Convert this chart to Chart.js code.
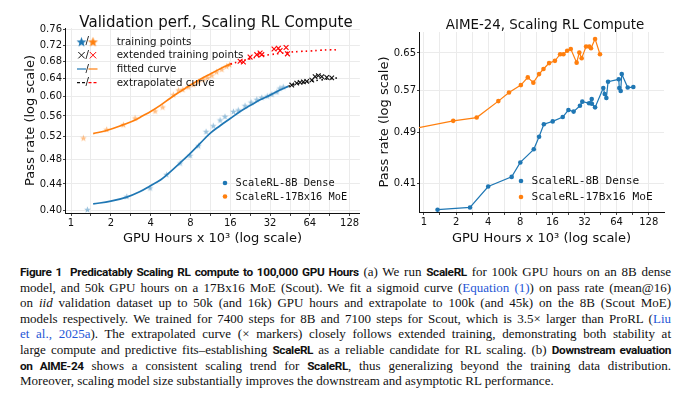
<!DOCTYPE html>
<html>
<head>
<meta charset="utf-8">
<script src="https://cdn.jsdelivr.net/npm/chart.js@4.4.1/dist/chart.umd.min.js"></script>
<style>
  body { margin: 0; background: #fff; width: 690px; height: 393px; overflow: hidden; position: relative; }
  #valChart { position: absolute; left: 0; top: 0; }
  #aimeChart { position: absolute; left: 365px; top: 0; }
  #caption { position: absolute; left: 20px; top: 264px; width: 651px; font-family: 'Liberation Serif', serif; font-size: 13px; color: #111; }
  .ln { height: 15.6px; line-height: 15.6px; text-align: justify; text-align-last: justify; }
  .ln.last { text-align-last: left; }
  .b { font-family: 'Roboto', sans-serif; font-weight: 700; font-size: 11.8px; letter-spacing: -0.35px; }
  .lnk { color: #2456d6; }
</style>
</head>
<body>
<canvas id="valChart" width="365" height="258"></canvas>
<canvas id="aimeChart" width="325" height="258"></canvas>
<div id="caption">
  <div class="ln"><span class="b">Figure 1&nbsp;&nbsp;Predicatably Scaling RL compute to 100,000 GPU Hours</span> (a) We run <span class="b">ScaleRL</span> for 100k GPU hours on an 8B dense</div>
  <div class="ln">model, and 50k GPU hours on a 17Bx16 MoE (Scout). We fit a sigmoid curve (<span class="lnk">Equation (1)</span>) on pass rate (mean@16)</div>
  <div class="ln">on <i>iid</i> validation dataset up to 50k (and 16k) GPU hours and extrapolate to 100k (and 45k) on the 8B (Scout MoE)</div>
  <div class="ln">models respectively. We trained for 7400 steps for 8B and 7100 steps for Scout, which is 3.5× larger than ProRL (<span class="lnk">Liu</span></div>
  <div class="ln"><span class="lnk">et al., 2025a</span>). The extrapolated curve (× markers) closely follows extended training, demonstrating both stability at</div>
  <div class="ln">large compute and predictive fits–establishing <span class="b">ScaleRL</span> as a reliable candidate for RL scaling. (b) <span class="b">Downstream evaluation</span></div>
  <div class="ln"><span class="b">on AIME-24</span> shows a consistent scaling trend for <span class="b">ScaleRL</span>, thus generalizing beyond the training data distribution.</div>
  <div class="ln last">Moreover, scaling model size substantially improves the downstream and asymptotic RL performance.</div>
</div>
<script>
// ---- axis ticks ----
const xTicksMajor = [1, 2, 4, 8, 16, 32, 64, 128];
const xGridMinor = [1.41, 2.83, 5.66, 11.3, 22.6, 45.3, 90.5];
const yTicksVal = [0.40, 0.44, 0.48, 0.52, 0.56, 0.60, 0.64, 0.68, 0.72, 0.76];
const yTicksAime = [0.41, 0.49, 0.57, 0.65];

// ---- (a) validation pass rate, GPU hours x 10^3 ----
// training points (stars)
const denseTrainX = [1.33, 2.64, 3.96, 5.28, 6.68, 7.95, 9.2, 10.5, 11.9, 13.4, 14.6, 16.9, 18.4, 20.7, 23.0, 25.4, 27.7, 30.5, 33.0, 36.0, 38.0, 40.3];
const denseTrainY = [0.402, 0.421, 0.434, 0.455, 0.474, 0.487, 0.504, 0.530, 0.541, 0.552, 0.559, 0.569, 0.572, 0.581, 0.588, 0.594, 0.598, 0.601, 0.605, 0.610, 0.618, 0.621];
const moeTrainX = [1.24, 1.86, 2.49, 3.05, 4.32, 4.93, 5.94, 6.5, 7.0, 7.7, 8.4, 9.2, 10.0, 10.8, 11.6, 12.6, 13.8, 15.0, 15.8];
const moeTrainY = [0.518, 0.534, 0.543, 0.556, 0.570, 0.578, 0.604, 0.614, 0.615, 0.621, 0.626, 0.632, 0.638, 0.642, 0.647, 0.655, 0.661, 0.668, 0.672];
// fitted curves
const denseFitX = [1.47, 2.0, 2.64, 3.3, 3.96, 4.8, 5.6, 6.67, 7.94, 9.46, 11.2, 13.4, 16, 19, 22.6, 26.9, 32, 38, 44];
const denseFitY = [0.410, 0.414, 0.420, 0.428, 0.437, 0.447, 0.459, 0.474, 0.490, 0.508, 0.526, 0.541, 0.555, 0.569, 0.581, 0.593, 0.603, 0.614, 0.622];
const moeFitX = [1.47, 1.86, 2.49, 3.0, 3.52, 4.0, 4.76, 5.66, 6.73, 8.0, 9.5, 11.3, 13.45, 16];
const moeFitY = [0.526, 0.532, 0.543, 0.551, 0.561, 0.569, 0.582, 0.597, 0.611, 0.625, 0.638, 0.650, 0.662, 0.673];
// extended training points (x markers)
const denseExtX = [46.7, 50.9, 54.0, 57.2, 60.6, 66.2, 70.1, 74.2, 78.8, 85.9, 93.7];
const denseExtY = [0.625, 0.629, 0.631, 0.632, 0.633, 0.636, 0.644, 0.646, 0.644, 0.642, 0.641];
const moeExtX = [19.0, 20.1, 22.6, 25.4, 26.9, 27.7, 34.3, 37.0, 38.1, 42.3, 43.3];
const moeExtY = [0.680, 0.678, 0.690, 0.696, 0.700, 0.696, 0.710, 0.712, 0.706, 0.714, 0.698];
// extrapolated curves
const denseExtrapX = [44, 50, 57, 64, 76, 90, 105];
const denseExtrapY = [0.622, 0.627, 0.630, 0.633, 0.636, 0.639, 0.641];
const moeExtrapX = [16, 19, 22.6, 26.9, 32, 38, 45, 54, 64, 76, 90, 105];
const moeExtrapY = [0.673, 0.680, 0.686, 0.692, 0.696, 0.699, 0.702, 0.704, 0.705, 0.707, 0.708, 0.708];

// ---- (b) AIME-24 ----
const aimeDenseX = [1.34, 2.70, 4.0, 6.64, 8.0, 10.7, 12.0, 13.3, 16.1, 20.0, 22.6, 25.3, 29.0, 30.5, 35.3, 37.4, 37.5, 40.2, 48.0, 49.5, 51.3, 53.2, 67.0, 67.8, 69.9, 71.5, 81.3, 91.8];
const aimeDenseY = [0.373, 0.376, 0.405, 0.419, 0.441, 0.462, 0.483, 0.505, 0.510, 0.518, 0.531, 0.528, 0.539, 0.547, 0.544, 0.552, 0.543, 0.536, 0.574, 0.562, 0.554, 0.587, 0.592, 0.574, 0.568, 0.603, 0.575, 0.576];
const aimeMoeX = [0.8, 1.88, 3.12, 4.98, 6.27, 8.1, 9.4, 10.6, 12.0, 13.2, 14.9, 16.9, 18.9, 20.3, 22.0, 23.8, 27.0, 28.6, 30.1, 33.1, 35.5, 36.8, 40.2, 44.7];
const aimeMoeY = [0.497, 0.511, 0.517, 0.548, 0.565, 0.580, 0.596, 0.585, 0.603, 0.614, 0.627, 0.632, 0.647, 0.647, 0.655, 0.659, 0.628, 0.651, 0.638, 0.665, 0.665, 0.661, 0.683, 0.647];

const BLUE = '#1f77b4';
const ORANGE = '#ff7f0e';
const RED = '#ff0000';
const INK = '#111';
const GRID = '#ebebeb';

Chart.defaults.font.family = "'DejaVu Sans', sans-serif";
Chart.defaults.color = INK;

const pts = (xs, ys) => xs.map((x, i) => ({ x: x, y: ys[i] }));

// filled 5-point star, drawn once and used as pointStyle
function starImage(color, r) {
    const c = document.createElement('canvas');
    const s = Math.ceil(r * 2 + 2);
    c.width = c.height = s;
    const g = c.getContext('2d');
    g.fillStyle = color;
    g.beginPath();
    for (let i = 0; i < 10; i++) {
        const rad = i % 2 ? r * 0.42 : r;
        const a = -Math.PI / 2 + i * Math.PI / 5;
        g.lineTo(s / 2 + rad * Math.cos(a), s / 2 + rad * Math.sin(a) + r * 0.1);
    }
    g.closePath();
    g.fill();
    return c;
}

function xAxis(min, max, height, tickGap) {
    return {
        type: 'logarithmic', min: min, max: max, bounds: 'data',
        afterBuildTicks: ax => {
            ax.ticks = xTicksMajor.concat(xGridMinor).sort((a, b) => a - b).map(v => ({ value: v }));
        },
        afterFit: ax => { ax.height = height; },
        ticks: {
            autoSkip: false, maxRotation: 0, padding: tickGap, color: INK, font: { size: 10 },
            callback: v => xTicksMajor.includes(v) ? String(v) : ''
        },
        grid: { color: GRID, tickColor: '#444', tickLength: 3 },
        border: { color: INK, width: 1 },
        title: { display: true, text: 'GPU Hours x 10³ (log scale)', color: INK, font: { size: 13 }, padding: { top: 0, bottom: 12 } }
    };
}

function yAxis(min, max, ticks, width, titleGap) {
    return {
        type: 'logarithmic', min: min, max: max, bounds: 'data',
        afterBuildTicks: ax => { ax.ticks = ticks.map(v => ({ value: v })); },
        afterFit: ax => { ax.width = width; },
        ticks: { autoSkip: false, padding: 1, color: INK, font: { size: 10 }, callback: v => v.toFixed(2) },
        grid: { color: GRID, tickColor: '#444', tickLength: 2 },
        border: { color: INK, width: 1 },
        title: { display: true, text: 'Pass rate (log scale)', color: INK, font: { size: 13 }, padding: { top: titleGap, bottom: 0 } }
    };
}

// title + dot legend drawn in chart space
function decor(title, titleX, titleY, titleSize, legX, legY, legSize, legGap) {
    return {
        id: 'decor',
        afterDraw(chart) {
            const ctx = chart.ctx;
            ctx.save();
            ctx.fillStyle = INK;
            ctx.font = titleSize + "px 'DejaVu Sans'";
            ctx.textAlign = 'center';
            ctx.textBaseline = 'alphabetic';
            ctx.fillText(title, titleX, titleY);
            ctx.font = legSize + "px 'DejaVu Sans Mono'";
            ctx.textAlign = 'left';
            ctx.textBaseline = 'middle';
            [['ScaleRL-8B Dense', BLUE], ['ScaleRL-17Bx16 MoE', ORANGE]].forEach((it, i) => {
                const y = legY + i * legGap;
                ctx.fillStyle = it[1];
                ctx.beginPath();
                ctx.arc(legX, y, 2.3, 0, Math.PI * 2);
                ctx.fill();
                ctx.fillStyle = INK;
                ctx.fillText(it[0], legX + 10.5, y + 0.5);
            });
            ctx.restore();
        }
    };
}

// marker legend, upper left of (a)
const keyLegend = {
    id: 'keyLegend',
    afterDraw(chart) {
        const ctx = chart.ctx;
        const rows = [41.7, 55.2, 69.0, 82.7];
        const lx = 81.5, rx = 93, tx = 116.7;
        ctx.save();
        ctx.font = "10.3px 'DejaVu Sans'";
        ctx.textBaseline = 'middle';
        ctx.textAlign = 'left';
        ctx.fillStyle = INK;
        ['training points', 'extended training points', 'fitted curve', 'extrapolated curve'].forEach((t, i) => {
            ctx.fillText(t, tx, rows[i] + 0.5);
        });
        ctx.textAlign = 'center';
        rows.forEach(y => ctx.fillText('/', 87.3, y));
        // stars
        const sb = starImage(BLUE, 5.2), so = starImage(ORANGE, 5.2);
        ctx.drawImage(sb, lx - sb.width / 2, rows[0] - sb.height / 2);
        ctx.drawImage(so, rx - so.width / 2, rows[0] - so.height / 2);
        // crosses
        ctx.lineWidth = 1;
        [[lx, INK], [rx, RED]].forEach(c => {
            ctx.strokeStyle = c[1];
            ctx.beginPath();
            ctx.moveTo(c[0] - 3.2, rows[1] - 3.2); ctx.lineTo(c[0] + 3.2, rows[1] + 3.2);
            ctx.moveTo(c[0] + 3.2, rows[1] - 3.2); ctx.lineTo(c[0] - 3.2, rows[1] + 3.2);
            ctx.stroke();
        });
        // solid and dashed segments
        ctx.lineWidth = 1.2;
        [[lx, BLUE], [rx, ORANGE]].forEach(c => {
            ctx.strokeStyle = c[1];
            ctx.beginPath(); ctx.moveTo(c[0] - 4.5, rows[2]); ctx.lineTo(c[0] + 4.5, rows[2]); ctx.stroke();
        });
        [[lx, INK], [rx, RED]].forEach(c => {
            ctx.strokeStyle = c[1];
            ctx.setLineDash([3, 2]);
            ctx.beginPath(); ctx.moveTo(c[0] - 4.5, rows[3]); ctx.lineTo(c[0] + 4.5, rows[3]); ctx.stroke();
        });
        ctx.restore();
    }
};

const starBlue = starImage('rgba(31,119,180,0.45)', 3.5);
const starOrange = starImage('rgba(255,127,14,0.5)', 3.5);

new Chart(document.getElementById('valChart'), {
    type: 'scatter',
    data: {
        datasets: [
            { data: pts(denseFitX, denseFitY), showLine: true, borderColor: BLUE, borderWidth: 1.7, pointRadius: 0, tension: 0.4 },
            { data: pts(moeFitX, moeFitY), showLine: true, borderColor: ORANGE, borderWidth: 1.7, pointRadius: 0, tension: 0.4 },
            { data: pts(denseExtX, denseExtY), pointStyle: 'crossRot', pointRadius: 3.2, borderColor: INK, borderWidth: 1.1 },
            { data: pts(moeExtX, moeExtY), pointStyle: 'crossRot', pointRadius: 3.4, borderColor: RED, borderWidth: 1.1 },
            { data: pts(denseExtrapX, denseExtrapY), showLine: true, borderColor: INK, borderWidth: 1.6, borderDash: [1.6, 3.2], pointRadius: 0, tension: 0.4 },
            { data: pts(moeExtrapX, moeExtrapY), showLine: true, borderColor: RED, borderWidth: 1.6, borderDash: [1.6, 3.2], pointRadius: 0, tension: 0.4 },
            { data: pts(denseTrainX, denseTrainY), pointStyle: starBlue, pointRadius: 3 },
            { data: pts(moeTrainX, moeTrainY), pointStyle: starOrange, pointRadius: 3 }
        ]
    },
    options: {
        responsive: false, animation: false, events: [],
        layout: { padding: { top: 28, right: 5, bottom: 0, left: 0 } },
        plugins: { legend: { display: false }, tooltip: { enabled: false } },
        scales: {
            x: xAxis(0.9, 153, 45, 1),
            y: yAxis(0.397, 0.765, yTicksVal, 65, 23)
        }
    },
    plugins: [decor('Validation perf., Scaling RL Compute', 216, 26.5, 15, 225, 183, 10.3, 13.5), keyLegend]
});

new Chart(document.getElementById('aimeChart'), {
    type: 'scatter',
    data: {
        datasets: [
            { data: pts(aimeDenseX, aimeDenseY), showLine: true, borderColor: BLUE, backgroundColor: BLUE, borderWidth: 1.2, pointRadius: 2.3, pointBorderWidth: 0 },
            { data: pts(aimeMoeX, aimeMoeY), showLine: true, borderColor: ORANGE, backgroundColor: ORANGE, borderWidth: 1.2, pointRadius: 2.3, pointBorderWidth: 0 }
        ]
    },
    options: {
        responsive: false, animation: false, events: [],
        layout: { padding: { top: 32, right: 26, bottom: 0, left: 0 } },
        plugins: { legend: { display: false }, tooltip: { enabled: false } },
        scales: {
            x: xAxis(0.898, 178, 46, 1),
            y: yAxis(0.370, 0.700, yTicksAime, 54, 12)
        }
    },
    plugins: [decor('AIME-24, Scaling RL Compute', 180, 29.3, 13.4, 156, 181, 11.2, 16)]
});
</script>
</body>
</html>
